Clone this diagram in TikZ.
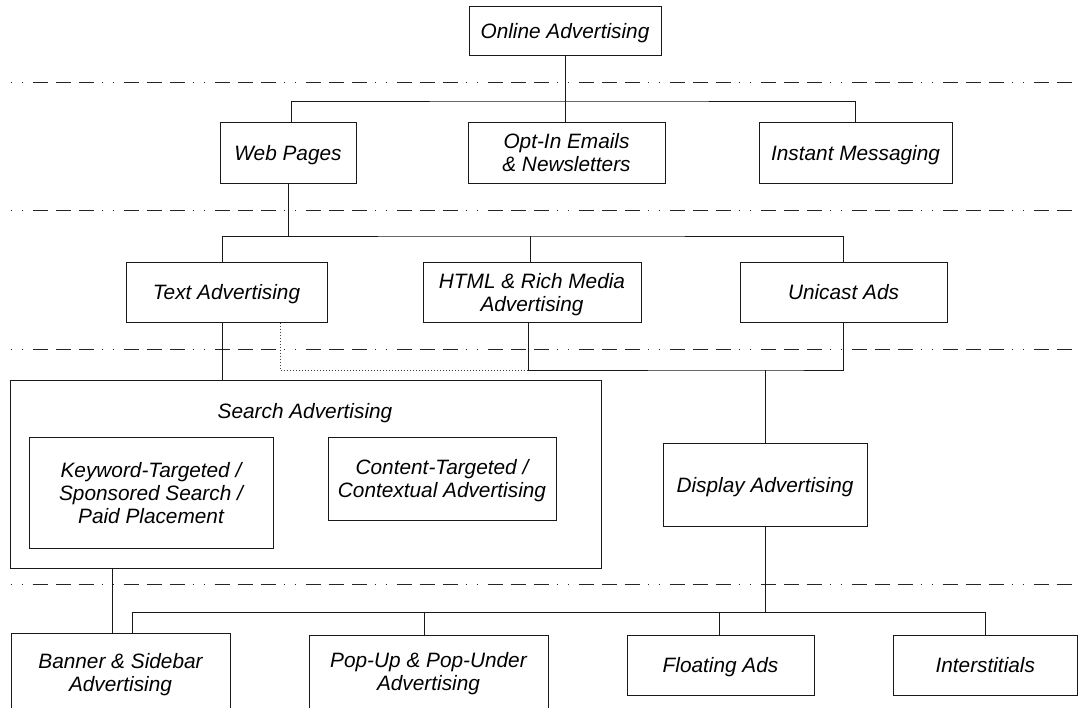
\documentclass[tikz,border=0pt]{standalone}
\usepackage{fontspec}
\setmainfont{Liberation Sans}
\usetikzlibrary{calc}
\begin{document}
\begin{tikzpicture}[x=1pt,y=-1pt,
  line width=1pt,
  every node/.style={font=\fontsize{20.8}{23}\selectfont\itshape, align=center, inner sep=0pt, text depth=0pt},
  box/.style={draw=black!90, rectangle},
  conn/.style={draw=black!90},
  dotconn/.style={draw=black!75, dash pattern=on 1.5pt off 1.5pt},
  divider/.style={draw=black!85, dash pattern=on 1.5pt off 9.5pt on 1.5pt off 9.5pt on 15pt off 8pt on 15pt off 8pt on 15pt off 8pt}]
\useasboundingbox (0,0) rectangle (1078,707);
\clip (0,0) rectangle (1078,707);

% level separators
\foreach \yy in {82.5,210,349.5,584.5}
  \draw[divider] (10.5,\yy) -- (1078,\yy);

% boxes
\node[box, minimum width=192pt, minimum height=49pt] (online) at (565,30.5) {Online Advertising};

\node[box, minimum width=136pt, minimum height=61pt] (web) at (288,152.5) {Web Pages};
\node[box, minimum width=197pt, minimum height=61pt] (optin) at (566.5,152.5) {Opt-In Emails\\\& Newsletters};
\node[box, minimum width=193pt, minimum height=61pt] (im) at (855.5,152.5) {Instant Messaging};

\node[box, minimum width=201pt, minimum height=60pt] (text) at (226.5,292) {Text Advertising};
\node[box, minimum width=218pt, minimum height=60pt] (html) at (532,292) {HTML \& Rich Media\\Advertising};
\node[box, minimum width=207pt, minimum height=60pt] (unicast) at (843.5,292) {Unicast Ads};

\node[box, minimum width=591pt, minimum height=188pt] (search) at (305.5,474) {};
\node (stitle) at (305,411) {Search Advertising};
\node[box, minimum width=244pt, minimum height=111pt] (keyword) at (151,492.5) {Keyword-Targeted /\\Sponsored Search /\\Paid Placement};
\node[box, minimum width=228pt, minimum height=83pt] (content) at (442,478.5) {Content-Targeted /\\Contextual Advertising};

\node[box, minimum width=204pt, minimum height=83pt] (display) at (765,484.5) {Display Advertising};

\node[box, minimum width=219pt, minimum height=78pt] (banner) at (120.5,672) {Banner \& Sidebar\\Advertising};
\node[box, minimum width=239pt, minimum height=73pt] (popup) at (428.5,671.5) {Pop-Up \& Pop-Under\\Advertising};
\node[box, minimum width=187pt, minimum height=60pt] (floating) at (720.5,665) {Floating Ads};
\node[box, minimum width=184.5pt, minimum height=60pt] (inter) at (985.25,665) {Interstitials};

% junction points
\coordinate (j1) at (565,101);
\coordinate (j2) at (530,236);
\coordinate (j3) at (765,370);
\coordinate (j4) at (765,612.5);

% connectors
\draw[conn] (online.south) -- (online.south |- optin.north);
\draw[conn] ([xshift=3pt]web.north) |- (j1) -| (im.north);

\draw[conn] (web.south) -- (web.south |- j2);
\draw[conn] ([xshift=-4pt]text.north) |- (j2) -| (unicast.north);
\draw[conn] ([xshift=-2pt]html.north) -- ([xshift=-2pt]html.north |- j2);

\draw[conn] ([xshift=-4pt]html.south) |- (j3) -| (unicast.south);
\draw[conn] (j3) -- (display.north);
\draw[dotconn] ([xshift=53.5pt]text.south) |- ([xshift=-4pt]html.south |- j3);

\draw[conn] ([xshift=-4pt]text.south) -- ([xshift=-4pt]text.south |- search.north);

\draw[conn] ([xshift=-8.5pt]banner.north) -- ([xshift=-8.5pt]banner.north |- search.south);
\draw[conn] (display.south) -- (j4);
\draw[conn] ([xshift=11.5pt]banner.north) |- (j4) -| (inter.north);
\draw[conn] ([xshift=-4pt]popup.north) -- ([xshift=-4pt]popup.north |- j4);
\draw[conn] ([xshift=-1.5pt]floating.north) -- ([xshift=-1.5pt]floating.north |- j4);
\end{tikzpicture}
\end{document}
